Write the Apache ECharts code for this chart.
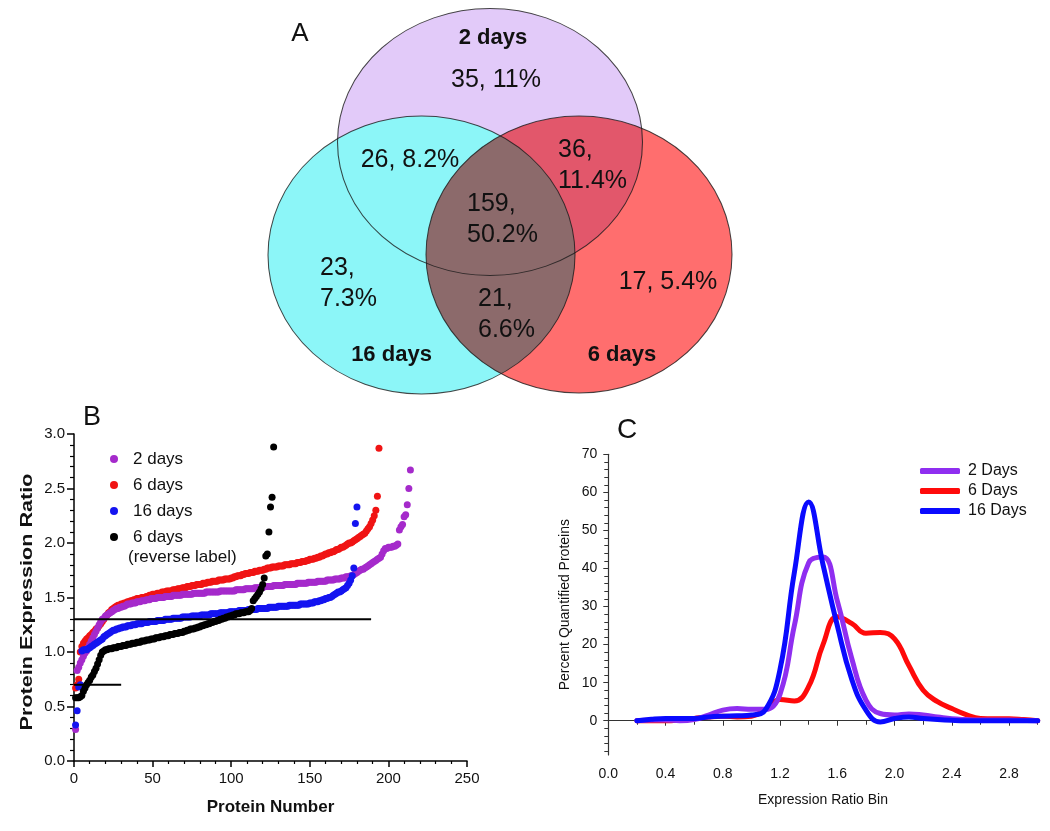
<!DOCTYPE html>
<html><head><meta charset="utf-8">
<script src="https://cdn.jsdelivr.net/npm/echarts@6/dist/echarts.min.js"></script>
<style>html,body{margin:0;padding:0;background:#fff}#c{width:1050px;height:831px}</style>
</head><body><div id="c"></div>
<script>
// ---------- Panel A (Venn) data ----------
const vennSets = ['2 days', '16 days', '6 days'];
const vennRegionCounts = [35, 26, 36, 159, 23, 21, 17];
const vennRegionPercents = ['11%', '8.2%', '11.4%', '50.2%', '7.3%', '6.6%', '5.4%'];

// ---------- Panel B data (sorted expression ratios, protein number = index+1) ----------
const ratio2days = [0.29,0.83,0.86,0.90,0.93,0.96,0.99,1.01,1.04,1.07,
1.10,1.13,1.16,1.19,1.22,1.25,1.28,1.30,1.31,1.33,
1.34,1.35,1.36,1.37,1.38,1.39,1.40,1.40,1.41,1.41,
1.42,1.42,1.43,1.44,1.44,1.44,1.45,1.45,1.45,1.46,
1.46,1.46,1.47,1.47,1.47,1.48,1.48,1.48,1.49,1.49,
1.49,1.49,1.50,1.50,1.50,1.50,1.50,1.51,1.51,1.51,
1.51,1.51,1.52,1.52,1.52,1.52,1.52,1.52,1.53,1.53,
1.53,1.53,1.53,1.53,1.53,1.54,1.54,1.54,1.54,1.54,
1.54,1.54,1.54,1.55,1.55,1.55,1.55,1.55,1.55,1.55,
1.55,1.55,1.56,1.56,1.56,1.56,1.56,1.56,1.56,1.56,
1.56,1.56,1.57,1.57,1.57,1.57,1.57,1.57,1.58,1.58,
1.58,1.58,1.58,1.58,1.59,1.59,1.59,1.59,1.59,1.59,
1.60,1.60,1.60,1.60,1.60,1.60,1.61,1.61,1.61,1.61,
1.61,1.61,1.61,1.62,1.62,1.62,1.62,1.62,1.62,1.62,
1.62,1.63,1.63,1.63,1.63,1.63,1.63,1.63,1.64,1.64,
1.64,1.64,1.64,1.64,1.65,1.65,1.65,1.65,1.65,1.65,
1.66,1.66,1.66,1.66,1.66,1.67,1.67,1.67,1.67,1.68,
1.68,1.68,1.69,1.69,1.69,1.70,1.70,1.71,1.72,1.73,
1.74,1.75,1.76,1.76,1.77,1.78,1.79,1.80,1.81,1.82,
1.83,1.84,1.85,1.86,1.87,1.90,1.93,1.95,1.95,1.96,
1.96,1.96,1.97,1.97,1.98,1.99,2.12,2.15,2.17,2.24,
2.26,2.35,2.50,2.67];
const ratio6days = [0.67,0.70,0.75,1.00,1.05,1.08,1.10,1.12,1.13,1.15,
1.16,1.18,1.19,1.21,1.22,1.24,1.26,1.28,1.30,1.32,
1.34,1.36,1.37,1.39,1.40,1.41,1.42,1.43,1.43,1.44,
1.44,1.45,1.45,1.46,1.46,1.47,1.47,1.48,1.48,1.49,
1.49,1.49,1.50,1.50,1.50,1.51,1.51,1.52,1.52,1.53,
1.53,1.53,1.54,1.54,1.54,1.55,1.55,1.55,1.56,1.56,
1.56,1.56,1.57,1.57,1.57,1.58,1.58,1.58,1.59,1.59,
1.59,1.60,1.60,1.60,1.61,1.61,1.61,1.62,1.62,1.62,
1.62,1.63,1.63,1.63,1.64,1.64,1.64,1.65,1.65,1.65,
1.65,1.66,1.66,1.66,1.66,1.67,1.67,1.67,1.67,1.68,
1.68,1.69,1.69,1.70,1.70,1.70,1.71,1.71,1.72,1.72,
1.72,1.73,1.73,1.73,1.74,1.74,1.74,1.75,1.75,1.75,
1.76,1.76,1.77,1.77,1.77,1.78,1.78,1.78,1.78,1.79,
1.79,1.79,1.79,1.80,1.80,1.80,1.80,1.81,1.81,1.81,
1.81,1.82,1.82,1.82,1.83,1.83,1.83,1.84,1.84,1.85,
1.85,1.85,1.86,1.86,1.87,1.87,1.88,1.88,1.89,1.90,
1.90,1.91,1.91,1.92,1.92,1.93,1.94,1.94,1.95,1.96,
1.96,1.97,1.98,1.99,2.00,2.00,2.01,2.02,2.03,2.04,
2.05,2.06,2.07,2.08,2.09,2.11,2.13,2.15,2.18,2.21,
2.25,2.30,2.43,2.87];
const ratio16days = [0.33,0.46,0.68,0.70,1.01,1.02,1.02,1.02,1.03,1.04,
1.05,1.06,1.07,1.08,1.09,1.10,1.11,1.12,1.14,1.15,
1.16,1.17,1.18,1.19,1.20,1.20,1.21,1.21,1.22,1.22,
1.23,1.23,1.23,1.24,1.24,1.24,1.25,1.25,1.25,1.26,
1.26,1.26,1.26,1.27,1.27,1.27,1.27,1.28,1.28,1.28,
1.28,1.28,1.29,1.29,1.29,1.29,1.29,1.30,1.30,1.30,
1.30,1.30,1.31,1.31,1.31,1.31,1.31,1.31,1.32,1.32,
1.32,1.32,1.32,1.32,1.33,1.33,1.33,1.33,1.33,1.33,
1.34,1.34,1.34,1.34,1.34,1.34,1.35,1.35,1.35,1.35,
1.35,1.35,1.36,1.36,1.36,1.36,1.36,1.36,1.37,1.37,
1.37,1.37,1.37,1.37,1.38,1.38,1.38,1.38,1.38,1.38,
1.39,1.39,1.39,1.39,1.39,1.39,1.40,1.40,1.40,1.40,
1.40,1.40,1.40,1.41,1.41,1.41,1.41,1.41,1.41,1.42,
1.42,1.42,1.42,1.42,1.42,1.42,1.43,1.43,1.43,1.43,
1.43,1.43,1.43,1.44,1.44,1.44,1.44,1.44,1.44,1.45,
1.45,1.45,1.46,1.46,1.46,1.47,1.47,1.48,1.48,1.49,
1.49,1.50,1.50,1.51,1.52,1.53,1.54,1.55,1.55,1.56,
1.57,1.58,1.59,1.61,1.63,1.66,1.70,1.77,2.18,2.33];
const ratio6daysReverse = [0.58,0.58,0.58,0.59,0.60,0.64,0.67,0.70,0.72,0.74,
0.77,0.79,0.82,0.85,0.89,0.93,0.97,1.00,1.01,1.02,
1.02,1.03,1.03,1.03,1.04,1.04,1.04,1.05,1.05,1.05,
1.06,1.06,1.06,1.07,1.07,1.07,1.08,1.08,1.08,1.09,
1.09,1.09,1.10,1.10,1.10,1.11,1.11,1.11,1.12,1.12,
1.12,1.13,1.13,1.13,1.14,1.14,1.14,1.15,1.15,1.15,
1.16,1.16,1.16,1.17,1.17,1.17,1.18,1.18,1.18,1.19,
1.19,1.20,1.20,1.21,1.21,1.21,1.22,1.22,1.23,1.23,
1.24,1.24,1.25,1.25,1.26,1.26,1.27,1.27,1.28,1.28,
1.29,1.29,1.30,1.30,1.31,1.31,1.32,1.32,1.33,1.33,
1.34,1.34,1.35,1.35,1.35,1.36,1.36,1.36,1.37,1.37,
1.37,1.38,1.40,1.47,1.49,1.51,1.53,1.55,1.58,1.62,
1.68,1.88,1.90,2.10,2.33,2.42,2.88];
const upperThreshold = 1.3, upperThresholdEnd = 189;
const lowerThreshold = 0.7, lowerThresholdEnd = 30;
const bXTicks = [0, 50, 100, 150, 200, 250];
const bYTicks = [0.0, 0.5, 1.0, 1.5, 2.0, 2.5, 3.0];

// ---------- Panel C data ----------
const ratioBins = [0.2,0.3,0.4,0.5,0.6,0.7,0.8,0.9,1.0,1.1,1.2,1.3,1.4,1.5,1.6,1.7,1.8,1.9,2.0,2.1,2.2,2.3,2.4,2.5,2.6,2.7,2.8,2.9,3.0];
const pct2Days  = [0,0.2,0.2,0,0.3,1.5,2.8,3.2,3.0,3.0,7,25,41.5,43,31.5,16.5,5.4,1.9,1.5,1.8,1.5,1.0,0.5,0.3,0.2,0.2,0.2,0.1,0];
const pct6Days  = [0,0,0,0.2,0.6,1.0,1.2,1.0,1.2,3.0,5.6,5.2,9,20,27.3,25.6,23,23.2,21.5,14.5,8,5,3.2,1.6,0.6,0.5,0.5,0.3,0];
const pct16Days = [0,0.4,0.6,0.6,0.6,1.0,1.2,1.3,1.5,3.0,13.5,39,57.5,41,25,11,2.8,-0.3,0.6,1.0,0.6,0.3,0.1,0,0,0,0,0,0];
const cXLabels = [0.0,0.4,0.8,1.2,1.6,2.0,2.4,2.8];
const cXMinorTicks = [0.2,0.6,1.0,1.4,1.8,2.2,2.6,3.0];
const cYLabels = [0,10,20,30,40,50,60,70];
const cYMinorTicks = [-8,-6,-4,-2,2,4,6,8,12,14,16,18,22,24,26,28,32,34,36,38,42,44,46,48,52,54,56,58,62,64,66,68];

// ---------- layout (pixels) ----------
const FONT = 'Arial, "Liberation Sans", sans-serif';
const vennShapes = [
  {c:[490,142], size:[305,267], fill:'#E2CAF9', blend:null},
  {c:[421.5,255], size:[307,278], fill:'#8CF6F8', blend:null},
  {c:[579,254.5], size:[306,277], fill:'#FF6E6E', blend:'multiply'}
];
const vennSetLabelPos = [[493,38],[391.5,354.5],[622,354.5]];
const vennRegionLayout = [
  {x:496, y:80, align:'center', wrap:false},
  {x:410, y:160, align:'center', wrap:false},
  {x:558, y:165.5, align:'left', wrap:true},
  {x:467, y:219.5, align:'left', wrap:true},
  {x:320, y:283.5, align:'left', wrap:true},
  {x:478, y:315, align:'left', wrap:true},
  {x:668, y:282, align:'center', wrap:false}
];

const chart = echarts.init(document.getElementById('c'), null, {renderer:'canvas'});

const series = [];
vennShapes.forEach(s => {
  series.push({type:'scatter', xAxisIndex:0, yAxisIndex:0, silent:true,
    blendMode: s.blend || 'source-over',
    data:[{value:s.c, symbolSize:s.size}], symbol:'circle',
    itemStyle:{color:s.fill, opacity:1}});
});
series.push({type:'scatter', xAxisIndex:0, yAxisIndex:0, silent:true,
  data: vennShapes.map(s => ({value:s.c, symbolSize:s.size})), symbol:'circle',
  itemStyle:{color:'rgba(0,0,0,0)', borderColor:'#1a1a1a', borderWidth:1}});

const toPts = arr => arr.map((v,i) => [i+1, v]);
const bSeries = [
  {name:'6 days', data:ratio6days, color:'#F01414'},
  {name:'2 days', data:ratio2days, color:'#A52ACB'},
  {name:'16 days', data:ratio16days, color:'#1414F0'},
  {name:'6 days (reverse label)', data:ratio6daysReverse, color:'#000000'}
];
bSeries.forEach(s => series.push({name:s.name, type:'scatter', xAxisIndex:1, yAxisIndex:1, silent:true,
  data:toPts(s.data), symbolSize:7, itemStyle:{color:s.color, opacity:1}}));
series.push({type:'line', xAxisIndex:1, yAxisIndex:1, silent:true, symbol:'none',
  data:[[0,upperThreshold],[upperThresholdEnd,upperThreshold]], lineStyle:{color:'#000', width:2}});
series.push({type:'line', xAxisIndex:1, yAxisIndex:1, silent:true, symbol:'none',
  data:[[0,lowerThreshold],[lowerThresholdEnd,lowerThreshold]], lineStyle:{color:'#000', width:2}});

const cSeries = [
  {name:'6 Days', data:pct6Days, color:'#FF0A0A'},
  {name:'2 Days', data:pct2Days, color:'#8F2EF0'},
  {name:'16 Days', data:pct16Days, color:'#0A0AFF'}
];
cSeries.forEach(s => series.push({name:s.name, type:'line', xAxisIndex:2, yAxisIndex:2, silent:true,
  smooth:0.45, symbol:'none', data:ratioBins.map((b,i)=>[b, s.data[i]]),
  itemStyle:{color:s.color}, lineStyle:{color:s.color, width:5, cap:'round', join:'round'}}));

const graphic = [];
const txt = (x,y,text,size,opts={}) => ({type:'text', x, y, z:100, silent:true,
  rotation:opts.rotation||0, scaleX:opts.scaleX||1,
  style:{text, fontSize:size, fontFamily:FONT, fontWeight:opts.bold?'bold':'normal', fill:'#111',
    align:opts.align||'center', verticalAlign:'middle', lineHeight:opts.lineHeight||size}});
graphic.push(txt(300,34,'A',26));
graphic.push(txt(92,418,'B',27));
graphic.push(txt(627,430,'C',28));
vennSets.forEach((n,i) => graphic.push(txt(vennSetLabelPos[i][0], vennSetLabelPos[i][1], n, 22, {bold:true})));
vennRegionCounts.forEach((c,i) => {
  const L = vennRegionLayout[i];
  const t = L.wrap ? (c + ',\n' + vennRegionPercents[i]) : (c + ', ' + vennRegionPercents[i]);
  graphic.push(txt(L.x, L.y, t, 25, {align:L.align, lineHeight:31}));
});
graphic.push(txt(28,602,'Protein Expression Ratio',16,{bold:true, rotation:Math.PI/2, scaleX:1.35}));
graphic.push(txt(128,557,'(reverse label)',17,{align:'left'}));

const axisBase = (c, w) => ({lineStyle:{color:c, width:w}});
const option = {
  backgroundColor:'#fff',
  animation:false,
  textStyle:{fontFamily:FONT},
  grid:[
    {left:0, top:0, width:1050, height:831},
    {left:74, top:434, width:393, height:327},
    {left:608.3, top:454.3, width:429.4, height:300.7}
  ],
  xAxis:[
    {gridIndex:0, type:'value', min:0, max:1050, show:false},
    {gridIndex:1, type:'value', min:0, max:250, interval:50,
      axisLine:axisBase('#000',1.5), axisTick:{length:6, lineStyle:{color:'#000', width:1.5}},
      minorTick:{show:true, splitNumber:5, length:3, lineStyle:{color:'#000', width:1.2}},
      splitLine:{show:false}, minorSplitLine:{show:false},
      axisLabel:{fontSize:15, color:'#111', margin:10, fontFamily:FONT, customValues:bXTicks},
      name:'Protein Number', nameLocation:'middle', nameGap:38,
      nameTextStyle:{fontSize:17, fontWeight:'bold', color:'#111', fontFamily:FONT}},
    {gridIndex:2, type:'value', min:0, max:3,
      axisLine:axisBase('#333',1.2), axisTick:{length:5, lineStyle:{color:'#333'}, customValues:cXLabels},
      splitLine:{show:false},
      axisLabel:{fontSize:14, color:'#111', margin:12, fontFamily:FONT, customValues:cXLabels,
        formatter:v => Number(v).toFixed(1)},
      name:'Expression Ratio Bin', nameLocation:'middle', nameGap:38,
      nameTextStyle:{fontSize:14, color:'#111', fontFamily:FONT}},
    {gridIndex:2, type:'value', min:0, max:3, axisLine:{show:false},
      axisTick:{inside:true, length:4, lineStyle:{color:'#333'}, customValues:cXMinorTicks},
      axisLabel:{show:false}, splitLine:{show:false}}
  ],
  yAxis:[
    {gridIndex:0, type:'value', min:0, max:831, inverse:true, show:false},
    {gridIndex:1, type:'value', min:0, max:3, interval:0.5,
      axisLine:{show:true, lineStyle:{color:'#000', width:1.5}},
      axisTick:{show:true, length:7, lineStyle:{color:'#000', width:1.5}},
      minorTick:{show:true, splitNumber:5, length:4, lineStyle:{color:'#000', width:1.2}},
      splitLine:{show:false}, minorSplitLine:{show:false},
      axisLabel:{fontSize:15, color:'#111', margin:9, fontFamily:FONT, customValues:bYTicks,
        formatter:v => Number(v).toFixed(1)}},
    {gridIndex:2, type:'value', min:-9, max:70,
      axisLine:{show:true, lineStyle:{color:'#333', width:1.2}},
      axisTick:{show:true, length:5, lineStyle:{color:'#333'}, customValues:cYLabels},
      splitLine:{show:false},
      axisLabel:{fontSize:14, color:'#111', margin:11, fontFamily:FONT, customValues:cYLabels},
      name:'Percent Quantified Proteins', nameLocation:'middle', nameGap:36,
      nameTextStyle:{fontSize:14, color:'#111', fontFamily:FONT}},
    {gridIndex:2, type:'value', min:-9, max:70, axisLine:{show:false},
      axisTick:{show:true, inside:true, length:4, lineStyle:{color:'#333'}, customValues:cYMinorTicks},
      axisLabel:{show:false}, splitLine:{show:false}}
  ],
  legend:[
    {orient:'vertical', left:105, top:443, itemWidth:8, itemHeight:8, itemGap:4, icon:'circle',
      data:['2 days','6 days','16 days','6 days (reverse label)'], selectedMode:false,
      formatter:n => n === '6 days (reverse label)' ? '6 days' : n,
      textStyle:{fontSize:17, lineHeight:22, color:'#111', fontFamily:FONT, padding:[0,0,0,10]}},
    {orient:'vertical', left:915, top:458, itemWidth:40, itemHeight:6, itemGap:4, icon:'roundRect',
      data:['2 Days','6 Days','16 Days'], selectedMode:false,
      textStyle:{fontSize:16, lineHeight:16, color:'#111', fontFamily:FONT, padding:[0,0,0,3]}}
  ],
  graphic: graphic,
  series: series
};
chart.setOption(option);
</script>
</body></html>
